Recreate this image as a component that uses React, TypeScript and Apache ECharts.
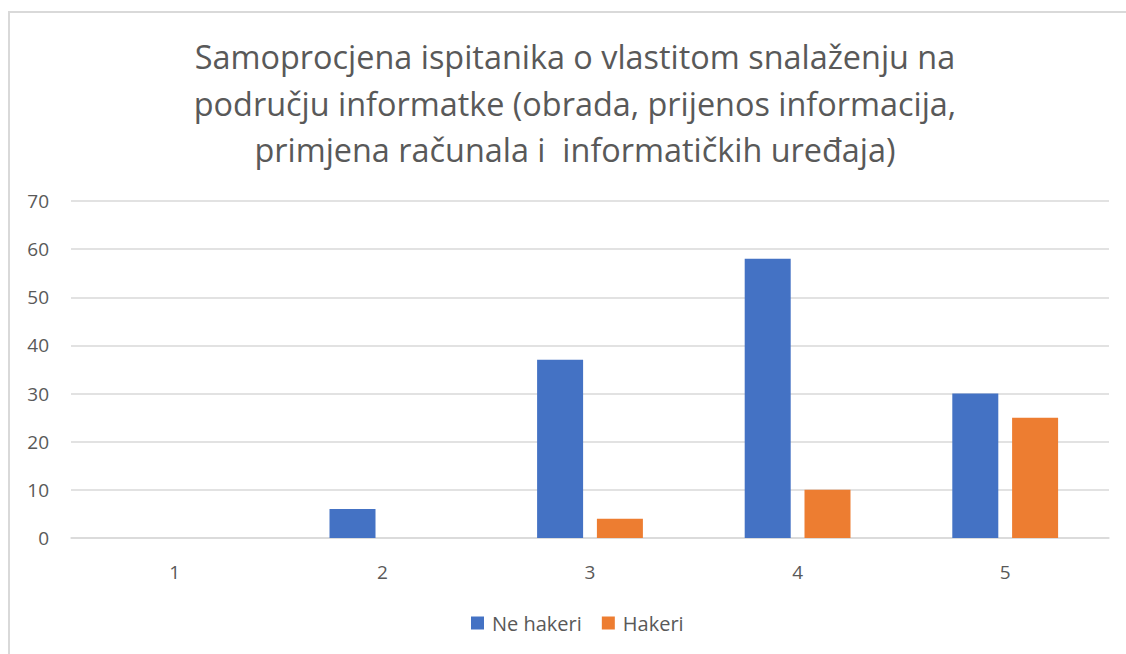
import React, { useEffect, useRef } from "react";
import * as echarts from "echarts";

const titleLines = [
  "Samoprocjena ispitanika o vlastitom snalaženju na",
  "području informatke (obrada, prijenos informacija,",
  "primjena računala i  informatičkih uređaja)",
];
const categories = ["1", "2", "3", "4", "5"];
const neHakeri = [0, 6, 37, 58, 30];
const hakeri = [0, 0, 4, 10, 25];
const seriesNames = ["Ne hakeri", "Hakeri"];
const yMin = 0;
const yMax = 70;
const yInterval = 10;

const FONT = "'Open Sans', 'Noto Sans', sans-serif";
const TEXT = "#595959";

const labelRich = {
  a: { fontFamily: FONT, fontSize: 19, color: TEXT },
};

export default function App() {
  const ref = useRef<HTMLDivElement>(null);
  useEffect(() => {
    const chart = echarts.init(ref.current!, null, { renderer: "svg" });
    chart.setOption({
      animation: false,
      backgroundColor: "#ffffff",
      textStyle: { fontFamily: FONT },
      graphic: [
        {
          type: "rect",
          shape: { x: 9, y: 12, width: 1300, height: 900 },
          style: { fill: "none", stroke: "#d9d9d9", lineWidth: 2 },
          silent: true,
          z: -1,
        },
        ...titleLines.map((line, i) => ({
          type: "text",
          x: 575,
          y: 56 + i * 46.5,
          silent: true,
          style: {
            text: line,
            fill: TEXT,
            fontFamily: FONT,
            fontSize: 32.4,
            align: "center",
            verticalAlign: "middle",
          },
        })),
      ],
      legend: {
        data: seriesNames,
        top: 608,
        left: 466,
        icon: "rect",
        itemWidth: 13,
        itemHeight: 13,
        itemGap: 20,
        textStyle: { fontFamily: FONT, fontSize: 20, color: TEXT, padding: [0, 0, 0, 3] },
      },
      grid: { left: 71, right: 17, top: 201, bottom: 116 },
      xAxis: {
        type: "category",
        data: categories,
        axisLine: { show: true, lineStyle: { color: "#d9d9d9", width: 1.5 } },
        axisTick: { show: false },
        axisLabel: {
          color: TEXT,
          fontSize: 19,
          margin: 24,
          fontFamily: FONT,
          formatter: "{a|{value}}",
          rich: labelRich,
        },
      },
      yAxis: {
        type: "value",
        min: yMin,
        max: yMax,
        interval: yInterval,
        axisLine: { show: false },
        axisTick: { show: false },
        axisLabel: {
          color: TEXT,
          fontSize: 19,
          margin: 22,
          fontFamily: FONT,
          formatter: "{a|{value}}",
          rich: labelRich,
        },
        splitLine: { lineStyle: { color: "#d9d9d9", width: 1.5 } },
      },
      series: [
        {
          name: seriesNames[0],
          type: "bar",
          data: neHakeri,
          barWidth: 46,
          barGap: "30%",
          itemStyle: { color: "#4472C4" },
        },
        {
          name: seriesNames[1],
          type: "bar",
          data: hakeri,
          barWidth: 46,
          barGap: "30%",
          itemStyle: { color: "#ED7D31" },
        },
      ],
    });
    return () => chart.dispose();
  }, []);
  return (
    <div
      ref={ref}
      style={{ position: "fixed", left: 0, top: 0, width: 1126, height: 654 }}
    />
  );
}
